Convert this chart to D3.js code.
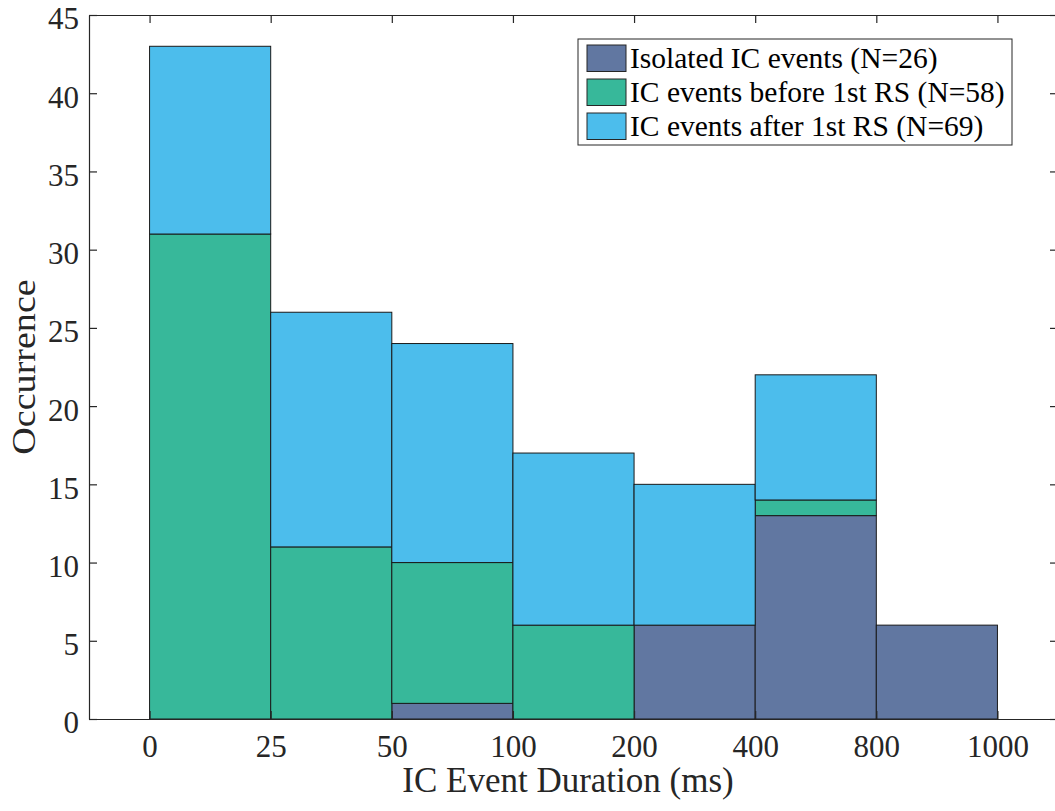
<!DOCTYPE html>
<html>
<head>
<meta charset="utf-8">
<script src="https://cdn.jsdelivr.net/npm/d3@7"></script>
<style>
  body { margin: 0; background: #fff; }
  svg { display: block; font-family: "Liberation Serif", "Times New Roman", serif; }
</style>
</head>
<body>
<div id="chart"></div>
<script>
// bin edges (ms) and counts per bin
const edges = ['0', '25', '50', '100', '200', '400', '800', '1000'];
const isolated = [0, 0, 1, 0, 6, 13, 6];
const before = [31, 11, 9, 6, 0, 1, 0];
const after = [12, 15, 14, 11, 9, 8, 0];
const seriesNames = ['Isolated IC events (N=26)', 'IC events before 1st RS (N=58)', 'IC events after 1st RS (N=69)'];
const colors = ['#6177a1', '#37b89a', '#4cbdec'];
const yTicks = [0, 5, 10, 15, 20, 25, 30, 35, 40, 45];

const width = 1055, height = 811;
const m = { left: 89, right: -3, top: 15, bottom: 92 };
const serif = '"Liberation Serif", "Times New Roman", serif';

const svg = d3.select('#chart').append('svg')
  .attr('width', width).attr('height', height);

// x is bin index, edges sit on integers
const x = d3.scaleLinear().domain([-0.5, edges.length - 0.5])
  .range([m.left, width - m.right]);
const y = d3.scaleLinear().domain([0, 45])
  .range([height - m.bottom, m.top]);

const rows = isolated.map((v, i) => ({ i, iso: v, bef: before[i], aft: after[i] }));
const stack = d3.stack().keys(['iso', 'bef', 'aft'])(rows);

stack.forEach((layer, k) => {
  svg.append('g').selectAll('rect')
    .data(layer.filter(d => d[1] > d[0]))
    .join('rect')
    .attr('x', d => x(d.data.i))
    .attr('width', x(1) - x(0))
    .attr('y', d => y(d[1]))
    .attr('height', d => y(d[0]) - y(d[1]))
    .attr('fill', colors[k])
    .attr('stroke', '#1a1a1a')
    .attr('stroke-width', 1);
});

// axes box
const axColor = '#262626';
const bottomAx = svg.append('g')
  .attr('transform', `translate(0,${y(0)})`)
  .call(d3.axisBottom(x).tickValues(d3.range(edges.length)).tickFormat(i => edges[i])
    .tickSizeInner(-8).tickSizeOuter(0).tickPadding(17));
const topAx = svg.append('g')
  .attr('transform', `translate(0,${y(45)})`)
  .call(d3.axisTop(x).tickValues(d3.range(edges.length)).tickFormat('')
    .tickSizeInner(-8).tickSizeOuter(0));
const leftAx = svg.append('g')
  .attr('transform', `translate(${m.left},0)`)
  .call(d3.axisLeft(y).tickValues(yTicks).tickSizeInner(-8).tickSizeOuter(0).tickPadding(10));
const rightAx = svg.append('g')
  .attr('transform', `translate(${width - m.right},0)`)
  .call(d3.axisRight(y).tickValues(yTicks).tickFormat('').tickSizeInner(-8).tickSizeOuter(0));

[bottomAx, topAx, leftAx, rightAx].forEach(g => {
  g.attr('font-family', serif).attr('font-size', 31);
  g.select('.domain').attr('stroke', axColor).attr('stroke-width', 1.2);
  g.selectAll('.tick line').attr('stroke', axColor).attr('stroke-width', 1.2);
  g.selectAll('.tick text').attr('fill', '#262626').style('font-family', serif);
});
leftAx.selectAll('.tick text').attr('dy', '0.45em');
bottomAx.selectAll('.tick text').attr('dy', '0.68em');

// axis titles
svg.append('text')
  .attr('x', 568).attr('y', 792)
  .attr('text-anchor', 'middle')
  .attr('font-size', 35).attr('fill', '#262626')
  .text('IC Event Duration (ms)');
svg.append('text')
  .attr('transform', `translate(35,${(y(0) + y(45)) / 2}) rotate(-90) scale(1.12,1)`)
  .attr('text-anchor', 'middle')
  .attr('font-size', 34).attr('fill', '#262626')
  .text('Occurrence');

// legend
const lg = svg.append('g').attr('transform', 'translate(578,39)');
lg.append('rect').attr('width', 434).attr('height', 106)
  .attr('fill', '#fff').attr('stroke', '#262626').attr('stroke-width', 1);
seriesNames.forEach((name, k) => {
  const ry = 6 + k * 34;
  lg.append('rect').attr('x', 9).attr('y', ry).attr('width', 39).attr('height', 26.5)
    .attr('fill', colors[k]).attr('stroke', '#262626').attr('stroke-width', 1);
  lg.append('text').attr('x', 52).attr('y', ry + 22.5)
    .attr('font-size', 29.5).attr('fill', '#000')
    .text(name);
});
</script>
</body>
</html>
